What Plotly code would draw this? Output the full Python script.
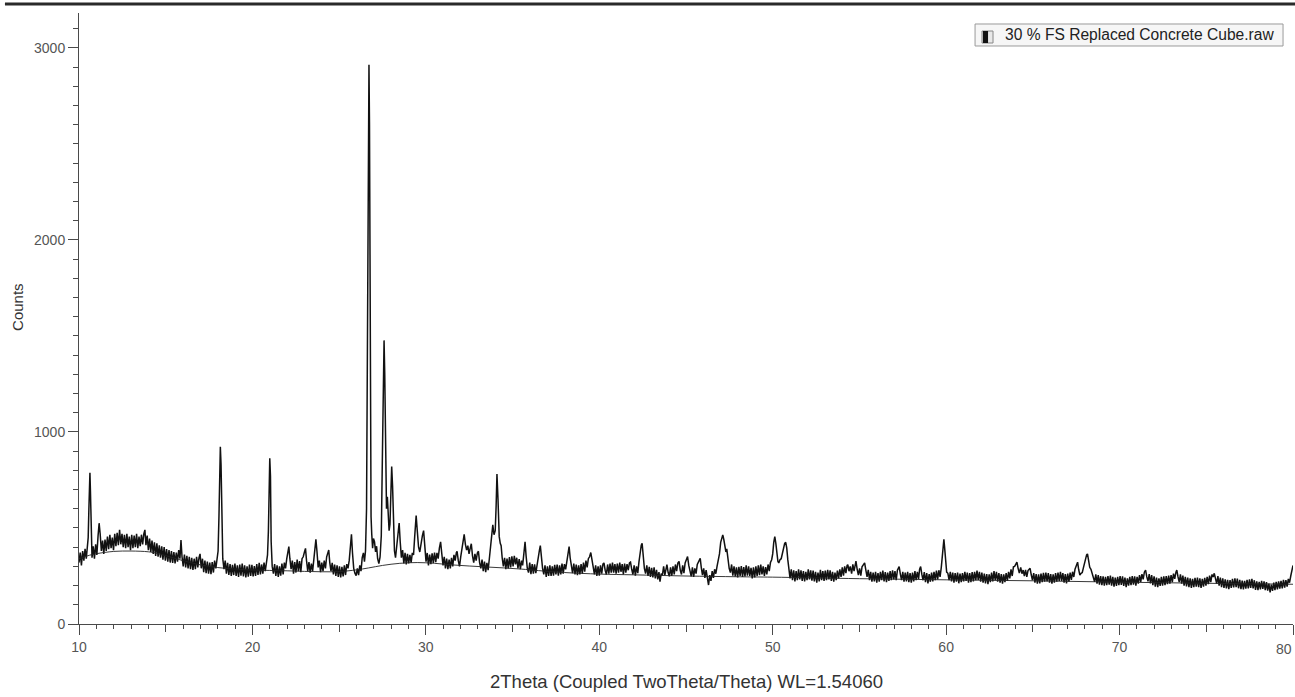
import plotly.graph_objects as go

# ---- measured pattern (2theta in degrees, intensity in counts) ----
TWO_THETA = [
 10.00,10.07,10.14,10.21,10.28,10.35,10.42,10.48,10.53,10.57,10.60,10.63,10.66,10.70,10.75,
 10.82,10.89,10.96,11.03,11.10,11.16,11.22,11.29,11.36,11.43,11.50,11.57,11.64,11.71,11.78,11.85,11.92,11.99,
 12.06,12.13,12.20,12.27,12.34,12.41,12.48,12.55,12.62,12.69,12.76,12.83,12.90,12.97,13.04,13.11,13.18,13.25,
 13.32,13.39,13.46,13.53,13.60,13.67,13.74,13.80,13.86,13.93,14.00,14.07,14.14,14.21,14.28,14.35,14.42,14.49,
 14.56,14.63,14.70,14.77,14.84,14.91,14.98,15.05,15.12,15.19,15.26,15.33,15.40,15.47,15.54,15.61,15.68,15.75,
 15.82,15.88,15.94,16.01,16.08,16.15,16.22,16.29,16.36,16.43,16.50,16.57,16.64,16.71,16.78,16.85,16.92,16.98,
 17.05,17.12,17.19,17.26,17.33,17.40,17.47,17.54,17.61,17.68,17.75,17.82,17.89,17.96,18.02,18.07,18.11,18.15,
 18.19,18.24,18.29,18.36,18.43,18.50,18.57,18.64,18.71,18.78,18.85,18.92,18.99,19.06,19.13,19.20,19.27,19.34,
 19.41,19.48,19.55,19.62,19.69,19.76,19.83,19.90,19.97,20.04,20.11,20.18,20.25,20.32,20.39,20.46,20.53,20.60,
 20.67,20.74,20.81,20.87,20.92,20.96,21.00,21.04,21.08,21.14,21.21,21.28,21.35,21.42,21.49,21.56,21.63,21.70,
 21.77,21.84,21.91,21.98,22.04,22.10,22.16,22.23,22.30,22.37,22.44,22.51,22.58,22.65,22.72,22.79,22.86,22.93,
 23.00,23.06,23.12,23.19,23.26,23.33,23.40,23.47,23.54,23.60,23.66,23.72,23.79,23.86,23.93,24.00,24.07,24.14,
 24.21,24.28,24.34,24.40,24.46,24.53,24.60,24.67,24.74,24.81,24.88,24.95,25.02,25.09,25.16,25.23,25.30,25.37,
 25.44,25.51,25.58,25.65,25.71,25.77,25.84,25.91,25.98,26.05,26.12,26.19,26.26,26.33,26.40,26.46,26.52,
 26.58,26.63,26.68,26.72,26.75,26.79,26.84,26.88,26.93,26.98,27.04,27.10,27.16,27.22,27.29,27.36,27.43,27.49,
 27.54,27.59,27.63,27.68,27.73,27.78,27.83,27.88,27.93,27.98,28.03,28.08,28.13,28.19,28.25,28.32,28.40,28.46,
 28.52,28.59,28.66,28.73,28.80,28.87,28.94,29.01,29.08,29.15,29.22,29.29,29.36,29.44,29.51,29.58,29.65,29.72,
 29.80,29.87,29.94,30.01,30.08,30.15,30.22,30.29,30.36,30.43,30.50,30.57,30.64,30.71,30.78,30.85,30.92,30.99,
 31.06,31.13,31.20,31.27,31.34,31.41,31.48,31.55,31.62,31.69,31.76,31.80,31.87,31.94,32.01,32.08,32.15,32.21,
 32.28,32.35,32.42,32.49,32.56,32.62,32.69,32.76,32.83,32.90,32.97,33.03,33.10,33.17,33.24,33.31,33.38,33.45,
 33.52,33.59,33.66,33.73,33.80,33.86,33.93,34.00,34.05,34.10,34.16,34.23,34.29,34.34,34.40,34.47,34.54,34.61,
 34.68,34.75,34.82,34.89,34.96,35.03,35.10,35.17,35.24,35.31,35.38,35.45,35.52,35.58,35.65,35.72,35.78,35.85,
 35.92,35.99,36.06,36.13,36.20,36.27,36.34,36.42,36.49,36.55,36.60,36.66,36.73,36.80,36.87,36.94,37.01,37.08,
 37.15,37.22,37.29,37.36,37.43,37.50,37.57,37.64,37.71,37.78,37.85,37.92,37.99,38.06,38.13,38.20,38.26,38.32,
 38.39,38.46,38.53,38.60,38.67,38.74,38.81,38.88,38.95,39.02,39.09,39.16,39.23,39.30,39.37,39.44,39.51,39.58,
 39.65,39.72,39.79,39.86,39.93,40.00,40.07,40.14,40.21,40.27,40.34,40.41,40.48,40.55,40.62,40.69,40.76,40.83,
 40.90,40.97,41.04,41.11,41.18,41.25,41.32,41.39,41.46,41.53,41.60,41.67,41.74,41.80,41.87,41.94,42.01,42.08,
 42.15,42.22,42.29,42.36,42.42,42.47,42.53,42.60,42.67,42.74,42.81,42.88,42.95,43.02,43.09,43.16,43.23,43.30,
 43.37,43.44,43.50,43.57,43.64,43.71,43.78,43.85,43.90,43.97,44.04,44.11,44.18,44.25,44.32,44.39,44.46,44.53,
 44.60,44.67,44.74,44.81,44.88,44.95,45.02,45.09,45.16,45.23,45.30,45.37,45.44,45.51,45.58,45.65,45.72,45.82,
 45.88,45.95,46.02,46.09,46.16,46.23,46.30,46.37,46.44,46.51,46.58,46.65,46.72,46.79,46.86,46.93,47.00,47.06,
 47.12,47.18,47.24,47.30,47.35,47.42,47.49,47.56,47.63,47.70,47.77,47.84,47.91,47.98,48.05,48.12,48.19,48.26,
 48.33,48.40,48.47,48.54,48.61,48.68,48.75,48.82,48.89,48.96,49.03,49.10,49.17,49.24,49.31,49.38,49.45,49.52,
 49.59,49.66,49.73,49.80,49.87,49.94,50.00,50.06,50.12,50.18,50.24,50.30,50.35,50.42,50.49,50.56,50.62,50.69,
 50.75,50.81,50.87,50.93,51.00,51.07,51.14,51.21,51.28,51.35,51.42,51.49,51.56,51.63,51.70,51.77,51.84,51.91,
 51.98,52.05,52.12,52.19,52.26,52.33,52.40,52.47,52.54,52.61,52.68,52.75,52.82,52.89,52.96,53.03,53.10,53.17,
 53.24,53.31,53.38,53.45,53.52,53.59,53.66,53.73,53.80,53.87,53.94,54.01,54.08,54.15,54.22,54.29,54.33,54.40,
 54.47,54.55,54.62,54.69,54.76,54.80,54.87,54.94,55.01,55.08,55.15,55.22,55.30,55.37,55.44,55.51,55.58,55.65,
 55.72,55.79,55.86,55.93,56.00,56.07,56.14,56.21,56.28,56.35,56.42,56.49,56.56,56.63,56.70,56.77,56.84,56.91,
 56.98,57.05,57.12,57.19,57.25,57.29,57.36,57.43,57.50,57.57,57.64,57.71,57.78,57.85,57.92,57.99,58.06,58.13,
 58.20,58.27,58.34,58.41,58.47,58.53,58.60,58.67,58.74,58.81,58.88,58.95,59.02,59.09,59.16,59.23,59.30,59.37,
 59.44,59.51,59.58,59.65,59.72,59.79,59.84,59.87,59.91,59.96,60.03,60.10,60.17,60.24,60.31,60.38,60.45,60.52,
 60.59,60.66,60.73,60.80,60.87,60.94,61.01,61.08,61.15,61.22,61.29,61.36,61.43,61.50,61.57,61.64,61.71,61.78,
 61.85,61.92,61.99,62.06,62.13,62.20,62.27,62.34,62.41,62.48,62.55,62.62,62.69,62.76,62.83,62.90,62.97,63.04,
 63.11,63.18,63.25,63.32,63.39,63.46,63.53,63.60,63.67,63.74,63.81,63.88,63.95,64.02,64.08,64.15,64.22,64.30,
 64.37,64.44,64.51,64.58,64.65,64.72,64.78,64.84,64.91,64.98,65.05,65.12,65.19,65.26,65.33,65.40,65.47,65.54,
 65.61,65.68,65.75,65.82,65.89,65.96,66.03,66.10,66.17,66.24,66.31,66.38,66.45,66.52,66.59,66.66,66.73,66.80,
 66.87,66.94,67.01,67.08,67.15,67.22,67.29,67.36,67.43,67.50,67.58,67.64,67.71,67.78,67.85,67.92,67.98,68.04,
 68.10,68.15,68.21,68.28,68.35,68.42,68.49,68.56,68.63,68.70,68.77,68.84,68.91,68.98,69.05,69.12,69.19,69.26,
 69.33,69.40,69.47,69.54,69.61,69.68,69.75,69.82,69.89,69.96,70.03,70.10,70.17,70.24,70.31,70.38,70.45,70.52,
 70.59,70.66,70.73,70.80,70.87,70.94,71.01,71.08,71.15,71.22,71.29,71.36,71.43,71.50,71.57,71.64,71.71,71.78,
 71.85,71.92,71.99,72.06,72.13,72.20,72.27,72.34,72.41,72.48,72.55,72.62,72.69,72.76,72.83,72.90,72.97,73.04,
 73.11,73.18,73.25,73.30,73.37,73.44,73.51,73.58,73.65,73.72,73.79,73.86,73.93,74.00,74.07,74.14,74.21,74.28,
 74.35,74.42,74.49,74.56,74.63,74.70,74.77,74.84,74.91,74.98,75.05,75.12,75.19,75.26,75.33,75.40,75.46,75.53,
 75.60,75.67,75.74,75.81,75.88,75.95,76.02,76.09,76.16,76.23,76.30,76.37,76.44,76.51,76.58,76.65,76.72,76.79,
 76.86,76.93,77.00,77.07,77.14,77.21,77.28,77.35,77.42,77.49,77.56,77.63,77.70,77.77,77.84,77.91,77.98,78.05,
 78.12,78.19,78.26,78.33,78.40,78.47,78.54,78.61,78.68,78.75,78.82,78.89,78.96,79.03,79.10,79.17,79.24,79.31,
 79.38,79.45,79.52,79.59,79.66,79.73,79.80,79.87,79.93,80.00,
]

COUNTS = [
 320,372,305,380,330,392,340,400,450,600,770,788,690,430,345,
 405,340,415,360,460,525,470,380,435,365,440,380,455,390,465,395,450,385,
 470,405,475,410,490,415,470,400,465,395,470,400,455,385,465,395,460,400,
 470,395,455,405,465,415,470,490,410,460,385,445,375,435,365,425,355,420,
 350,410,345,405,335,400,330,390,325,385,320,380,318,375,315,372,325,385,
 340,437,350,300,362,295,355,290,350,285,345,282,340,285,350,295,345,365,
 290,340,270,330,265,325,262,320,260,322,268,330,290,340,380,560,850,923,
 830,500,340,285,330,262,318,255,312,250,308,255,315,250,305,245,310,252,
 315,248,305,242,300,246,310,250,308,248,302,250,312,255,318,258,310,262,
 320,275,330,360,480,780,863,770,430,300,262,312,250,305,245,300,252,315,
 258,320,290,340,370,403,340,285,330,262,322,268,335,275,328,270,340,350,
 375,394,330,275,322,268,315,275,335,380,441,380,295,330,270,320,275,330,
 290,350,370,385,320,275,318,258,310,250,305,245,300,242,298,248,305,255,
 312,290,330,390,467,370,290,265,252,290,255,305,275,345,370,325,380,
 600,1500,2600,2913,2600,1400,560,467,395,445,428,375,405,340,315,350,460,850,
 1300,1477,1300,850,600,663,570,486,520,700,820,720,480,380,345,410,470,526,
 430,345,385,315,370,310,365,315,360,320,370,360,460,565,480,400,375,430,
 460,486,400,325,370,305,362,312,368,318,372,322,370,340,395,428,365,305,
 350,290,340,285,335,290,345,300,360,330,372,379,330,300,350,385,440,467,
 415,385,408,365,395,418,355,320,365,330,370,379,320,290,335,275,325,270,
 318,280,340,410,485,516,465,486,610,781,650,455,420,408,345,300,345,285,
 340,290,348,295,352,300,355,310,345,290,338,285,330,305,365,428,355,290,
 268,320,260,312,262,310,265,320,345,385,408,350,290,258,305,245,300,250,
 305,250,300,252,308,258,310,252,305,258,315,262,312,285,330,375,403,345,
 290,265,315,258,310,255,305,258,312,262,320,272,330,295,340,350,372,335,
 290,258,305,250,300,252,305,262,312,318,280,258,310,262,315,268,320,268,
 312,262,315,268,320,272,312,258,315,268,312,280,318,322,285,258,305,252,
 300,265,325,375,410,420,355,290,262,305,250,298,245,292,242,295,238,282,
 232,270,220,262,255,300,255,300,309,268,248,295,250,300,258,310,275,318,
 326,280,258,305,265,318,335,351,305,268,248,295,245,290,262,310,325,342,
 295,255,290,240,280,228,203,255,225,275,240,285,262,300,325,365,425,455,
 464,440,398,375,391,335,290,268,310,252,300,248,295,242,298,250,302,245,
 296,248,305,252,300,250,292,238,295,242,300,250,305,255,310,258,300,250,
 296,258,310,275,320,335,365,425,455,420,355,325,318,335,340,365,395,420,
 425,395,335,280,238,285,228,280,222,275,228,285,232,280,225,275,222,272,
 228,285,232,280,226,278,222,272,215,268,222,282,228,275,225,278,228,282,
 232,280,225,272,220,268,228,278,238,285,245,295,252,300,265,305,309,275,
 300,262,310,275,320,328,285,255,290,252,298,305,318,280,245,282,228,272,
 220,268,222,272,215,265,220,272,228,278,222,270,218,268,225,275,228,280,
 232,275,228,280,290,299,260,228,272,220,268,222,272,218,265,215,268,222,
 275,228,272,235,285,299,258,228,270,218,265,212,260,220,268,222,272,228,
 278,232,280,245,295,350,420,441,400,320,270,264,228,272,222,268,215,265,
 220,268,212,262,218,265,222,272,225,268,215,265,218,270,222,272,228,278,
 230,272,220,268,215,262,212,260,208,258,218,268,222,275,228,272,220,265,
 215,260,210,258,218,265,225,272,238,285,250,298,300,312,322,290,265,295,
 262,281,250,282,245,278,285,290,255,228,265,215,260,210,258,212,262,218,
 266,220,268,222,265,215,260,210,258,215,265,220,268,224,272,225,265,215,
 260,212,262,220,268,230,272,245,285,300,322,285,255,264,268,295,320,345,
 360,365,335,295,285,262,248,220,258,210,255,205,250,202,248,200,246,202,
 250,205,252,200,245,195,242,198,246,202,250,204,248,198,242,192,238,200,
 246,202,250,205,248,200,245,210,255,220,260,232,270,281,245,222,260,212,
 255,202,248,195,242,192,238,198,245,200,248,202,250,208,252,210,255,218,
 262,235,270,281,245,218,258,210,252,200,246,196,242,192,238,188,235,192,
 240,195,242,192,238,188,235,194,240,200,246,208,252,218,258,245,264,232,
 210,250,200,242,192,238,188,232,185,230,182,228,188,235,190,238,192,236,
 186,230,182,226,180,225,184,230,186,232,188,235,186,228,178,222,176,220,
 180,225,183,222,176,218,174,210,165,205,172,215,176,220,180,222,184,225,
 186,230,190,228,195,235,215,250,275,305,
]

# ---- fitted background (smooth line) ----
BG_THETA = [10.0, 10.6, 11.0, 12.0, 13.0, 14.0, 14.5, 15.0, 16.0, 17.0, 18.0, 19.0, 20.0,
            21.0, 22.0, 23.0, 24.0, 25.0, 26.0, 26.7, 27.5, 28.5, 29.5, 30.5, 31.5, 32.5,
            33.5, 34.5, 35.5, 36.5, 38.0, 40.0, 42.0, 45.0, 48.0, 50.0, 55.0, 60.0, 65.0,
            70.0, 75.0, 80.0]
BG_COUNTS = [340, 358, 366, 378, 380, 376, 368, 356, 330, 308, 294, 286, 281,
             279, 277, 274, 272, 273, 282, 292, 305, 316, 320, 316, 308, 302,
             297, 292, 286, 278, 268, 260, 256, 250, 246, 244, 236, 230, 225,
             218, 212, 207]

X_TICKS = [10, 20, 30, 40, 50, 60, 70, 80]
X_MID_TICKS = [15, 25, 35, 45, 55, 65, 75]
Y_TICKS = [0, 1000, 2000, 3000]
SERIES_NAME = "30 % FS Replaced Concrete Cube.raw"
X_TITLE = "2Theta (Coupled TwoTheta/Theta) WL=1.54060"
Y_TITLE = "Counts"

FONT = "Liberation Sans, Arial, Helvetica, sans-serif"
AX = "#4a4a4a"

fig = go.Figure()
fig.add_trace(go.Scatter(x=TWO_THETA, y=COUNTS, mode="lines", name=SERIES_NAME,
                         line=dict(color="#111111", width=1.5), showlegend=False))
fig.add_trace(go.Scatter(x=BG_THETA, y=BG_COUNTS, mode="lines", name="background",
                         line=dict(color="#222222", width=0.9, shape="spline"),
                         showlegend=False, xaxis="x2"))

fig.update_layout(
    width=1295, height=697,
    margin=dict(l=79, r=2, t=13, b=73),
    paper_bgcolor="white", plot_bgcolor="white",
    font=dict(family=FONT, color="#444444"),
    xaxis=dict(range=[10, 80], tickvals=X_TICKS, ticks="outside", ticklen=10,
               tickcolor=AX, tickwidth=1, showline=True, linecolor=AX, linewidth=1,
               showgrid=False, zeroline=False, tickfont=dict(size=14, color="#555555"),
               automargin=False,
               minor=dict(dtick=1, tick0=10, ticks="outside", ticklen=4, tickcolor=AX,
                          showgrid=False)),
    xaxis2=dict(range=[10, 80], matches="x", overlaying="x", side="bottom",
                tickvals=X_MID_TICKS, ticks="outside", ticklen=7, tickcolor=AX,
                showticklabels=False, showline=False, showgrid=False, zeroline=False),
    yaxis=dict(range=[0, 3182], tickvals=Y_TICKS, ticks="outside", ticklen=10,
               tickcolor=AX, showline=True, linecolor=AX, linewidth=1,
               showgrid=False, zeroline=False, tickfont=dict(size=14, color="#555555"),
               automargin=False,
               minor=dict(dtick=100, tick0=0, ticks="outside", ticklen=5, tickcolor=AX,
                          showgrid=False)),
    shapes=[
        dict(type="line", xref="paper", yref="paper", x0=-0.061, x1=1.002,
             y0=1.0147, y1=1.0147, line=dict(color="#2a2a2a", width=3)),
        dict(type="rect", xref="paper", yref="paper", x0=0.7381, x1=0.9918,
             y0=0.946, y1=0.982, line=dict(color="#9a9a9a", width=1), fillcolor="#f6f6f6"),
        dict(type="rect", xref="paper", yref="paper", x0=0.7438, x1=0.7529,
             y0=0.9509, y1=0.9705, line=dict(color="#888888", width=1), fillcolor="#e8e8e8"),
        dict(type="rect", xref="paper", yref="paper", x0=0.7446, x1=0.7488,
             y0=0.9509, y1=0.9705, line=dict(color="#111111", width=0), fillcolor="#111111"),
    ],
    annotations=[
        dict(text=SERIES_NAME, xref="paper", yref="paper", x=0.7611, y=0.964,
             xanchor="left", yanchor="middle", showarrow=False,
             font=dict(size=15.6, color="#222222", family=FONT)),
        dict(text=X_TITLE, xref="paper", yref="paper", x=0.5, y=-0.0933,
             xanchor="center", yanchor="middle", showarrow=False,
             font=dict(size=18.5, color="#333333", family=FONT)),
        dict(text=Y_TITLE, xref="paper", yref="paper", x=-0.0502, y=0.519,
             xanchor="center", yanchor="middle", textangle=-90, showarrow=False,
             font=dict(size=15, color="#333333", family=FONT)),
        # last tick label, which the axis hides because it runs past the page edge
        dict(text=str(X_TICKS[-1]), xref="x", yref="paper", x=X_TICKS[-1], y=-0.041,
             xanchor="right", yanchor="middle", showarrow=False, xshift=1,
             font=dict(size=14, color="#555555", family=FONT)),
    ],
)

fig.write_html("out.html", config={"displayModeBar": False},
               post_script="document.body.style.margin='0px';document.body.style.overflow='hidden';")
